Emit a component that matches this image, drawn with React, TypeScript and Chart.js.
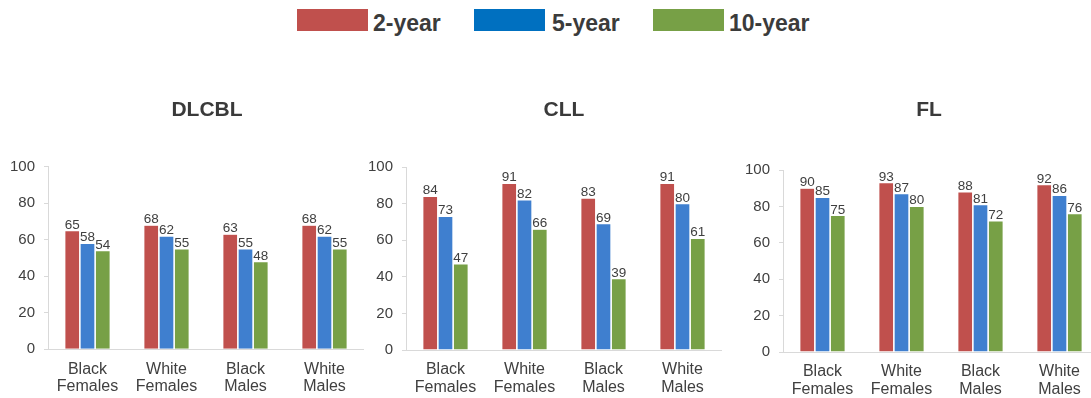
import React, { useEffect, useRef } from "react";
import { Chart, registerables } from "chart.js";

Chart.register(...registerables);

// Patient groups shown on each x axis (two-line labels)
const groupLabels: string[][] = [
  ["Black", "Females"],
  ["White", "Females"],
  ["Black", "Males"],
  ["White", "Males"],
];

const seriesNames = ["2-year", "5-year", "10-year"];
const barColors = ["#C0504D", "#3F7FCF", "#77A046"];
const legendColors = ["#C0504D", "#0070C0", "#77A046"];

// Relative survival (%) per lymphoma subtype
const dlcbl2 = [65, 68, 63, 68];
const dlcbl5 = [58, 62, 55, 62];
const dlcbl10 = [54, 55, 48, 55];

const cll2 = [84, 91, 83, 91];
const cll5 = [73, 82, 69, 80];
const cll10 = [47, 66, 39, 61];

const fl2 = [90, 93, 88, 92];
const fl5 = [85, 87, 81, 86];
const fl10 = [75, 80, 72, 76];

const yMin = 0;
const yMax = 100;
const yStep = 20;

const FONT = "'Liberation Sans', Arial, Helvetica, sans-serif";

// Prints each bar's value just above it
const valueLabels = {
  id: "valueLabels",
  afterDatasetsDraw(chart: any) {
    const ctx = chart.ctx;
    ctx.save();
    ctx.font = `13.5px ${FONT}`;
    ctx.fillStyle = "#404040";
    ctx.textAlign = "center";
    ctx.textBaseline = "alphabetic";
    chart.data.datasets.forEach((ds: any, i: number) => {
      chart.getDatasetMeta(i).data.forEach((bar: any, j: number) => {
        ctx.fillText(String(ds.data[j]), bar.x, bar.y - 2);
      });
    });
    ctx.restore();
  },
};

// Moves the title sideways by a per-chart offset after layout
const titleShift = {
  id: "titleShift",
  afterLayout(chart: any, _args: any, opts: any) {
    const t = chart.titleBlock;
    const dx = (opts && opts.dx) || 0;
    if (t && dx) {
      t.left += dx;
      t.right += dx;
    }
  },
};

type PanelProps = {
  title: string;
  series: number[][];
  left: number;
  titleGap: number;
  axisHeight: number;
  titleDx: number;
};

const CANVAS_TOP = 40;
const CANVAS_H = 358;
const CANVAS_W = 364;
const Y_AXIS_W = 48;
const TITLE_SIZE = 21;

function Panel(p: PanelProps) {
  const ref = useRef<HTMLCanvasElement | null>(null);

  useEffect(() => {
    if (!ref.current) return;
    const chart = new Chart(ref.current, {
      type: "bar",
      data: {
        labels: groupLabels,
        datasets: p.series.map((vals, i) => ({
          label: seriesNames[i],
          data: vals,
          backgroundColor: barColors[i],
          borderColor: "#ffffff",
          borderWidth: { left: 0.8, right: 0.8, top: 0.6, bottom: 0 },
          borderSkipped: false,
          categoryPercentage: 0.58,
          barPercentage: 1,
        })),
      },
      options: {
        responsive: false,
        animation: false,
        layout: { padding: { top: 57.7, left: 0, right: 0, bottom: 0 } },
        plugins: {
          legend: { display: false },
          tooltip: { enabled: false },
          titleShift: { dx: p.titleDx },
          title: {
            display: true,
            text: p.title,
            fullSize: false,
            color: "#3a3a3a",
            font: { family: FONT, size: TITLE_SIZE, weight: "bold", lineHeight: 1.2 },
            padding: { top: 0, bottom: p.titleGap },
          },
        },
        scales: {
          x: {
            grid: { display: true, drawOnChartArea: false, drawTicks: false },
            border: { display: true, color: "#d9d9d9", width: 1 },
            ticks: {
              color: "#404040",
              padding: 11,
              font: { family: FONT, size: 16, lineHeight: 1.1 },
              maxRotation: 0,
              autoSkip: false,
            },
            afterFit: (s: any) => {
              s.height = p.axisHeight;
            },
          },
          y: {
            min: yMin,
            max: yMax,
            grid: {
              display: true,
              drawOnChartArea: false,
              tickLength: 4,
              color: "#d9d9d9",
            },
            border: { display: true, color: "#d9d9d9", width: 1 },
            ticks: {
              stepSize: yStep,
              color: "#404040",
              padding: 9,
              font: { family: FONT, size: 15 },
            },
            afterFit: (s: any) => {
              s.width = Y_AXIS_W;
            },
          },
        },
      },
      plugins: [valueLabels, titleShift],
    } as any);
    return () => chart.destroy();
  }, []);

  return (
    <canvas
      ref={ref}
      width={CANVAS_W}
      height={CANVAS_H}
      style={{
        position: "absolute",
        left: p.left,
        top: CANVAS_TOP,
        width: CANVAS_W,
        height: CANVAS_H,
      }}
    />
  );
}

function Legend() {
  const boxes = [
    { x: 297, tx: 373 },
    { x: 474, tx: 552 },
    { x: 653, tx: 729 },
  ];
  return (
    <>
      {boxes.map((b, i) => (
        <React.Fragment key={seriesNames[i]}>
          <div
            style={{
              position: "absolute",
              left: b.x,
              top: 9,
              width: 71,
              height: 22,
              background: legendColors[i],
            }}
          />
          <div
            style={{
              position: "absolute",
              left: b.tx,
              top: 8,
              height: 30,
              lineHeight: "30px",
              fontFamily: FONT,
              fontWeight: "bold",
              fontSize: 23,
              color: "#3b3b3b",
              whiteSpace: "nowrap",
            }}
          >
            {seriesNames[i]}
          </div>
        </React.Fragment>
      ))}
    </>
  );
}

export default function App() {
  return (
    <div
      style={{
        position: "fixed",
        left: 0,
        top: 0,
        width: 1091,
        height: 398,
        overflow: "hidden",
        background: "#ffffff",
      }}
    >
      <Legend />
      <Panel
        title="DLCBL"
        series={[dlcbl2, dlcbl5, dlcbl10]}
        left={0}
        titleGap={43.8}
        axisHeight={48.7}
        titleDx={1}
      />
      <Panel
        title="CLL"
        series={[cll2, cll5, cll10]}
        left={358}
        titleGap={44.1}
        axisHeight={48}
        titleDx={0}
      />
      <Panel
        title="FL"
        series={[fl2, fl5, fl10]}
        left={735}
        titleGap={47.1}
        axisHeight={46}
        titleDx={-12}
      />
    </div>
  );
}
